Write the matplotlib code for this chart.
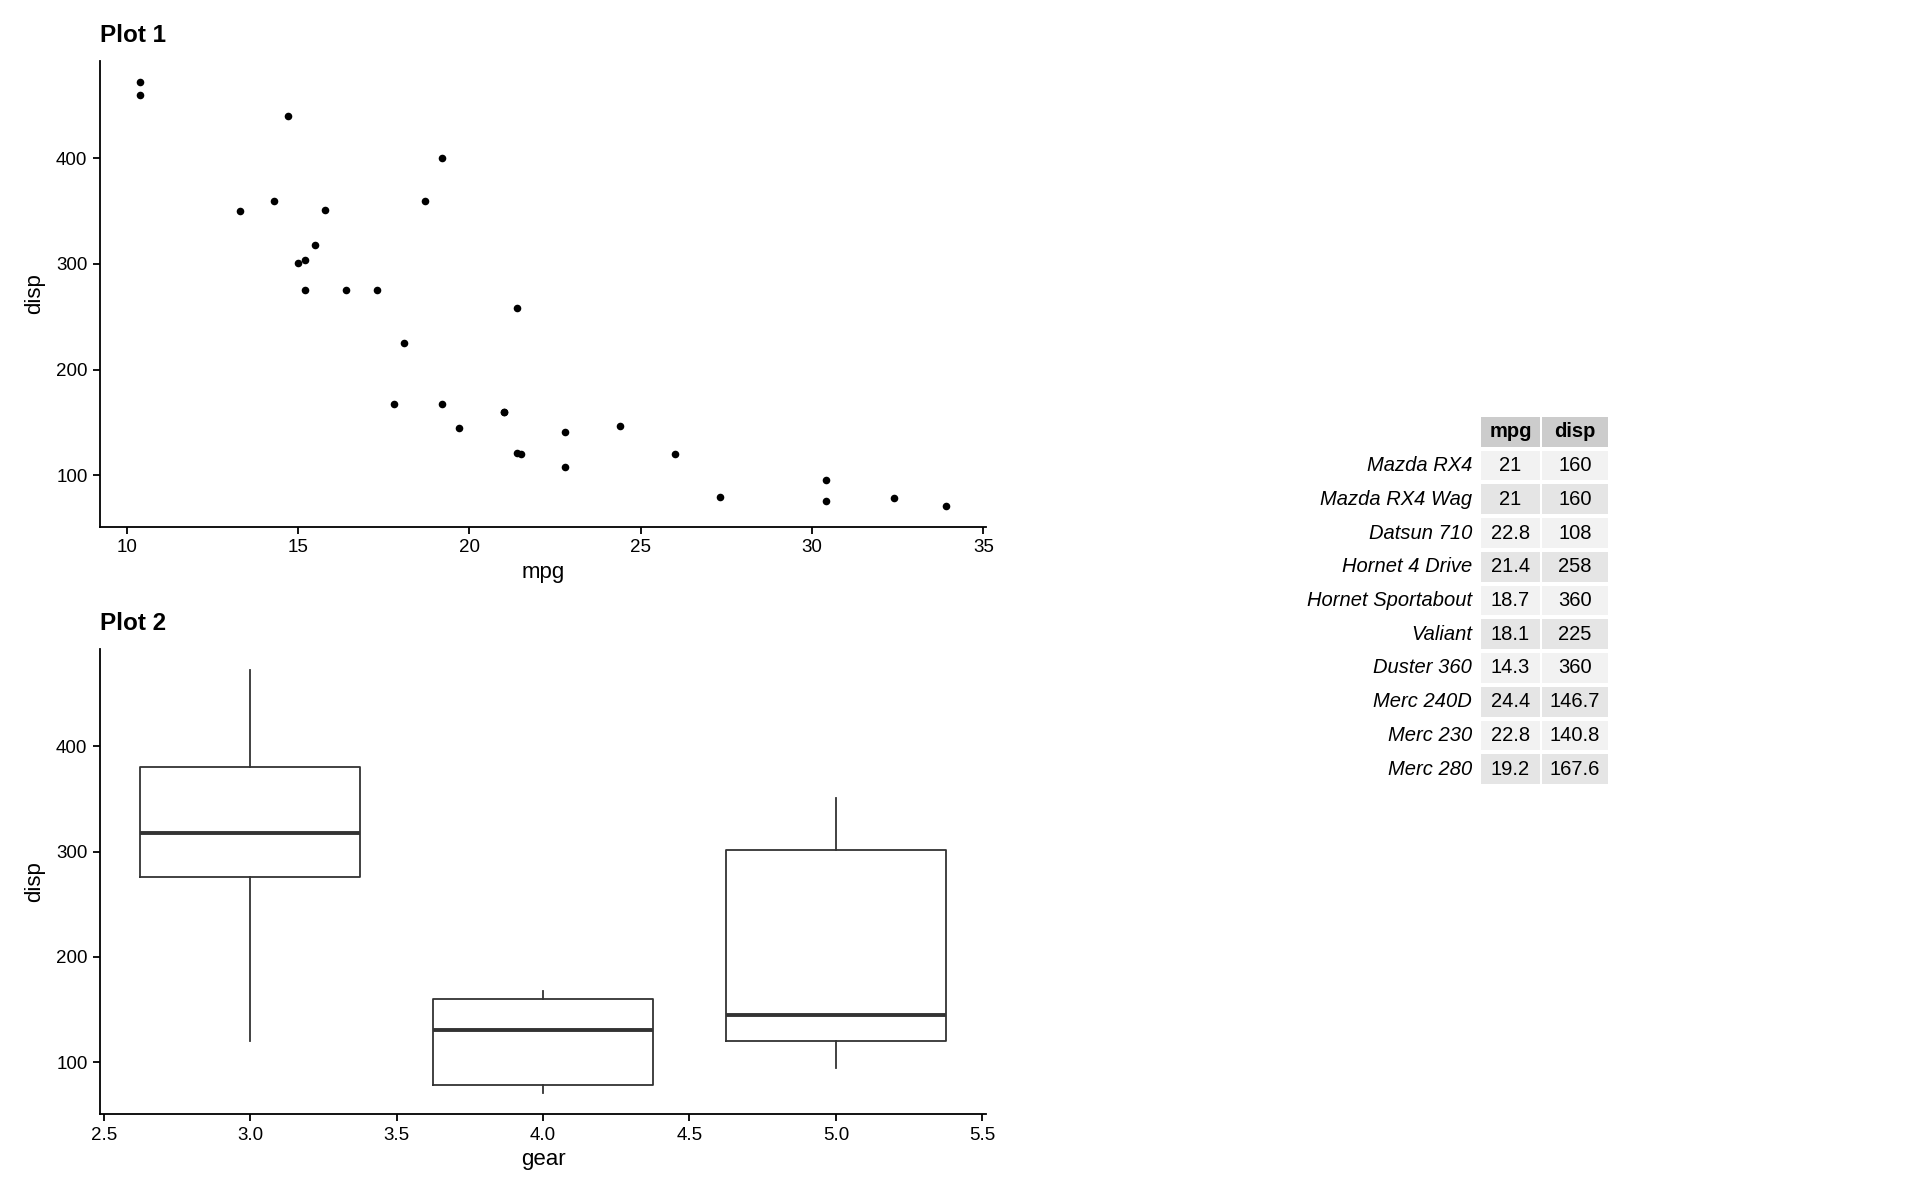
import numpy as np
import matplotlib
matplotlib.use("Agg")
import matplotlib.pyplot as plt
from matplotlib.patches import Rectangle

plt.rcParams['font.family'] = ['Liberation Sans', 'DejaVu Sans']

# mtcars (mpg, disp, gear)
cars = ["Mazda RX4", "Mazda RX4 Wag", "Datsun 710", "Hornet 4 Drive", "Hornet Sportabout",
        "Valiant", "Duster 360", "Merc 240D", "Merc 230", "Merc 280", "Merc 280C",
        "Merc 450SE", "Merc 450SL", "Merc 450SLC", "Cadillac Fleetwood", "Lincoln Continental",
        "Chrysler Imperial", "Fiat 128", "Honda Civic", "Toyota Corolla", "Toyota Corona",
        "Dodge Challenger", "AMC Javelin", "Camaro Z28", "Pontiac Firebird", "Fiat X1-9",
        "Porsche 914-2", "Lotus Europa", "Ford Pantera L", "Ferrari Dino", "Maserati Bora",
        "Volvo 142E"]
mpg = [21.0, 21.0, 22.8, 21.4, 18.7, 18.1, 14.3, 24.4, 22.8, 19.2, 17.8, 16.4, 17.3, 15.2,
       10.4, 10.4, 14.7, 32.4, 30.4, 33.9, 21.5, 15.5, 15.2, 13.3, 19.2, 27.3, 26.0, 30.4,
       15.8, 19.7, 15.0, 21.4]
disp = [160.0, 160.0, 108.0, 258.0, 360.0, 225.0, 360.0, 146.7, 140.8, 167.6, 167.6, 275.8,
        275.8, 275.8, 472.0, 460.0, 440.0, 78.7, 75.7, 71.1, 120.1, 318.0, 304.0, 350.0,
        400.0, 79.0, 120.3, 95.1, 351.0, 145.0, 301.0, 121.0]
gear = [4, 4, 4, 3, 3, 3, 3, 4, 4, 4, 4, 3, 3, 3, 3, 3, 3, 4, 4, 4, 3, 3, 3, 3, 3, 4, 5, 5,
        5, 5, 5, 4]
mpg_labels = ["21", "21", "22.8", "21.4", "18.7", "18.1", "14.3", "24.4", "22.8", "19.2"]
disp_labels = ["160", "160", "108", "258", "360", "225", "360", "146.7", "140.8", "167.6"]

W, H = 1920, 1200
fig = plt.figure(figsize=(19.2, 12), dpi=100)

def style(ax):
    for s in ["top", "right"]:
        ax.spines[s].set_visible(False)
    for s in ["left", "bottom"]:
        ax.spines[s].set_linewidth(1.3)
    ax.tick_params(length=5, width=1.3, labelsize=13.5, pad=4, colors="black")

def expand(lo, hi):
    d = (hi - lo) * 0.05
    return lo - d, hi + d

ylim = expand(min(disp), max(disp))

# Plot 1
ax1 = fig.add_axes([100 / W, 1 - 527 / H, 886 / W, 466 / H])
ax1.scatter(mpg, disp, s=30, color="black", linewidths=0)
ax1.set_xlim(expand(min(mpg), max(mpg)))
ax1.set_ylim(ylim)
ax1.set_xticks([10, 15, 20, 25, 30, 35])
ax1.set_yticks([100, 200, 300, 400])
style(ax1)
ax1.set_xlabel("mpg", fontsize=16, labelpad=4)
ax1.set_ylabel("disp", fontsize=16, labelpad=8)
ax1.set_title("Plot 1", loc="left", fontsize=17.5, fontweight="bold", pad=14)

# Plot 2
ax2 = fig.add_axes([100 / W, 1 - 1114 / H, 886 / W, 465 / H])
levels = sorted(set(gear))
groups = [[d for d, g in zip(disp, gear) if g == lv] for lv in levels]
ax2.boxplot(groups, positions=levels, widths=0.75, manage_ticks=False,
            boxprops=dict(color="#333333", linewidth=1.3),
            whiskerprops=dict(color="#333333", linewidth=1.3),
            capprops=dict(linewidth=0),
            medianprops=dict(color="#333333", linewidth=2.8),
            flierprops=dict(marker="o", markerfacecolor="#333333", markeredgecolor="#333333"))
ax2.set_xlim(expand(levels[0] - 0.375, levels[-1] + 0.375))
ax2.set_ylim(ylim)
ax2.set_xticks(np.arange(2.5, 5.51, 0.5))
ax2.set_xticklabels([f"{v:.1f}" for v in np.arange(2.5, 5.51, 0.5)])
ax2.set_yticks([100, 200, 300, 400])
style(ax2)
ax2.set_xlabel("gear", fontsize=16, labelpad=4)
ax2.set_ylabel("disp", fontsize=16, labelpad=8)
ax2.set_title("Plot 2", loc="left", fontsize=17.5, fontweight="bold", pad=14)

# Table (units: pixels inside table area)
col_w = [61, 68]
n_rows = len(mpg_labels) + 1
tw = sum(col_w)
axt = fig.add_axes([1480 / W, 1 - 786 / H, tw / W, 371 / H])
axt.set_xlim(0, tw)
axt.set_ylim(n_rows, 0)
axt.axis("off")
rh = 1.0
fills = ["#F2F2F2", "#E5E5E5"]
gap_x = 1.0
gap_y = 0.06
x0s = [0, col_w[0]]
for j, head in enumerate(["mpg", "disp"]):
    axt.add_patch(Rectangle((x0s[j] + gap_x, gap_y), col_w[j] - 2 * gap_x, rh - 2 * gap_y,
                            facecolor="#CCCCCC", edgecolor="none"))
    axt.text(x0s[j] + col_w[j] / 2, 0.5, head, ha="center", va="center",
             fontsize=14.5, fontweight="bold")
for i in range(len(mpg_labels)):
    y = i + 1
    for j, vals in enumerate([mpg_labels, disp_labels]):
        axt.add_patch(Rectangle((x0s[j] + gap_x, y + gap_y), col_w[j] - 2 * gap_x,
                                rh - 2 * gap_y, facecolor=fills[i % 2], edgecolor="none"))
        axt.text(x0s[j] + col_w[j] / 2, y + 0.5, vals[i], ha="center", va="center",
                 fontsize=14.5)
    axt.text(-8, y + 0.5, cars[i], ha="right", va="center", fontsize=14.5,
             style="italic", clip_on=False)

fig.savefig("out.png", dpi=100)
